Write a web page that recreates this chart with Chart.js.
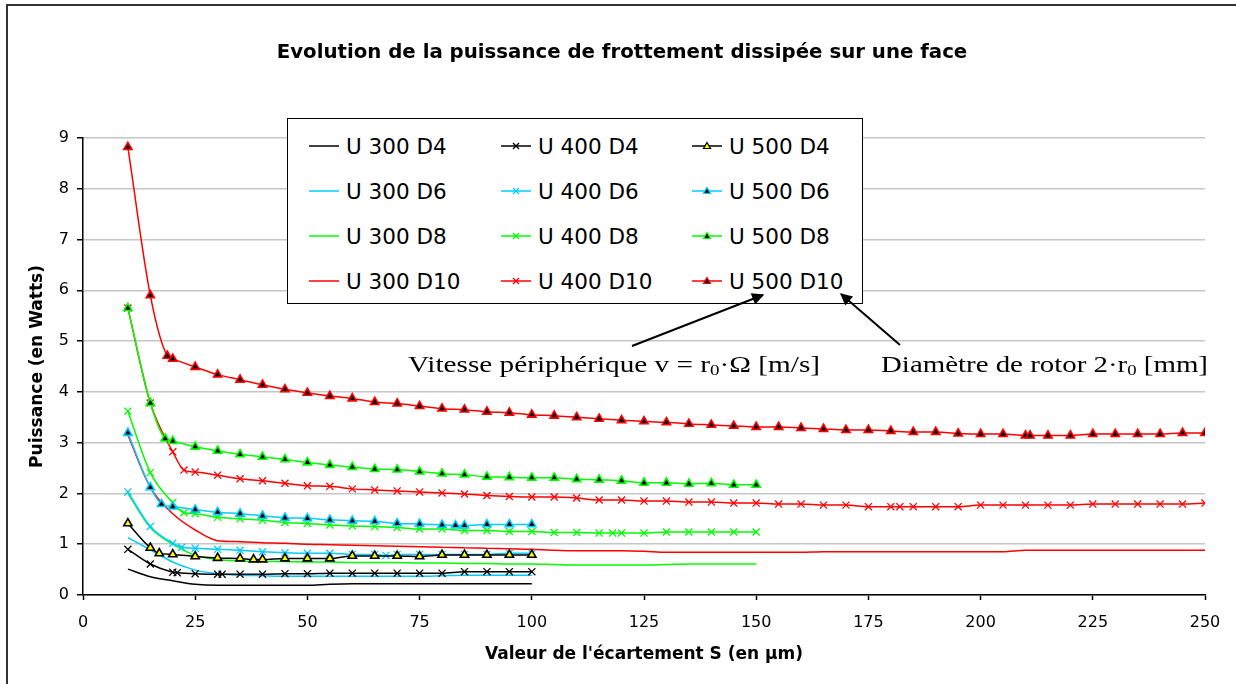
<!DOCTYPE html>
<html>
<head>
<meta charset="utf-8">
<script src="https://cdn.jsdelivr.net/npm/chart.js@4"></script>
<style>
  body { margin: 0; background: #fff; }
  #wrap { position: relative; width: 1236px; height: 684px; overflow: hidden; font-family: "DejaVu Sans", sans-serif; }
  #frame { position: absolute; left: 6px; top: 4px; width: 1300px; height: 800px; border: 2px solid #333; }
  #c { position: absolute; left: 0; top: 0; }
  #title { position: absolute; left: 0; top: 42px; width: 1244px; text-align: center; font-weight: bold; font-size: 19.75px; line-height: 1; color: #000; white-space: nowrap; }
  #leg { position: absolute; left: 287px; top: 118px; width: 574px; height: 184px; border: 1px solid #000; background: #fff; }
  .it { position: absolute; height: 26px; display: flex; align-items: center; font-size: 21.5px; color: #000; white-space: nowrap; }
  .it svg { margin-right: 7px; }
  .ann { position: absolute; font-family: "Liberation Serif", serif; font-size: 22.5px; line-height: 1; white-space: nowrap; transform-origin: left center; color: #000; }
  .ann sub { font-size: 0.65em; vertical-align: -0.2em; line-height: 0; }
  #arrows { position: absolute; left: 0; top: 0; }
</style>
</head>
<body>
<div id="wrap">
  <div id="frame"></div>
  <canvas id="c" width="1236" height="684"></canvas>
  <div id="title">Evolution de la puissance de frottement dissipée sur une face</div>
  <div id="leg"></div>
  <svg id="arrows" width="1236" height="684">
    <defs>
      <marker id="ah" viewBox="0 0 10 10" refX="9" refY="5" markerWidth="7" markerHeight="6" orient="auto" markerUnits="strokeWidth">
        <path d="M0,0 L10,5 L0,10 z" fill="#000"/>
      </marker>
    </defs>
    <line x1="632" y1="346" x2="763" y2="295" stroke="#000" stroke-width="2" marker-end="url(#ah)"/>
    <line x1="900" y1="345" x2="841" y2="294" stroke="#000" stroke-width="2" marker-end="url(#ah)"/>
  </svg>
  <div id="a1" class="ann" style="left:408px; top:354px;">Vitesse périphérique v = r<sub>0</sub>·Ω [m/s]</div>
  <div id="a2" class="ann" style="left:881px; top:354px;">Diamètre de rotor 2·r<sub>0</sub> [mm]</div>
</div>
<script>
// écartement S (µm) and puissance (W)
const s300D4 = [10,15,20,25,30,35,40,45,50,55,60,65,70,75,80,85,90,95,100];
const p300D4 = [0.51,0.36,0.28,0.21,0.19,0.19,0.19,0.19,0.19,0.21,0.22,0.22,0.22,0.22,0.22,0.22,0.22,0.22,0.22];
const s400D4 = [10,15,20,21,25,30,31,35,40,45,50,55,60,65,70,75,80,85,90,95,100];
const p400D4 = [0.90,0.61,0.45,0.44,0.42,0.41,0.41,0.41,0.41,0.42,0.42,0.43,0.43,0.43,0.43,0.43,0.43,0.46,0.46,0.46,0.46];
const s500D4 = [10,15,17,20,25,30,35,38,40,45,50,55,60,65,70,75,80,85,90,95,100];
const p500D4 = [1.41,0.93,0.82,0.80,0.76,0.73,0.72,0.70,0.70,0.72,0.72,0.72,0.77,0.77,0.77,0.76,0.79,0.79,0.79,0.79,0.79];

const s300D6 = [10,15,20,25,30,35,40,45,50,55,60,65,70,75,80,85,90,95,100];
const p300D6 = [1.13,0.89,0.65,0.49,0.42,0.39,0.38,0.37,0.37,0.37,0.37,0.37,0.37,0.37,0.38,0.39,0.39,0.39,0.39];
const s400D6 = [10,15,20,22,25,30,35,40,45,50,55,60,65,67.5,70,75,80,85,90,95,100];
const p400D6 = [2.03,1.35,1.02,0.94,0.92,0.90,0.88,0.85,0.83,0.82,0.82,0.80,0.80,0.78,0.80,0.80,0.80,0.80,0.80,0.82,0.82];
const s500D6 = [10,15,17.5,20,25,30,35,40,45,50,55,60,65,70,75,80,83,85,90,95,100];
const p500D6 = [3.19,2.12,1.79,1.74,1.68,1.63,1.60,1.56,1.52,1.51,1.48,1.46,1.45,1.41,1.40,1.38,1.37,1.37,1.39,1.39,1.39];

const s300D8 = [10,15,20,25,30,35,40,45,50,55,60,65,70,75,80,85,90,95,100,105,110,115,120,125,130,135,140,145,150];
const p300D8 = [2.00,1.33,1.00,0.78,0.70,0.67,0.66,0.66,0.65,0.65,0.64,0.64,0.64,0.63,0.63,0.62,0.62,0.61,0.61,0.60,0.59,0.59,0.59,0.59,0.60,0.61,0.61,0.61,0.61];
const s400D8 = [10,15,20,22.5,25,30,35,40,45,50,55,60,65,70,75,80,85,90,95,100,105,110,115,118,120,125,130,135,140,145,150];
const p400D8 = [3.62,2.41,1.82,1.62,1.60,1.53,1.50,1.47,1.43,1.41,1.38,1.36,1.35,1.33,1.30,1.30,1.27,1.27,1.25,1.25,1.23,1.23,1.22,1.22,1.22,1.22,1.24,1.24,1.24,1.24,1.24];
const s500D8 = [10,15,18.3,20,25,30,35,40,45,50,55,60,65,70,75,80,85,90,95,100,105,110,115,120,125,130,135,140,145,150];
const p500D8 = [5.65,3.78,3.08,3.03,2.92,2.84,2.77,2.72,2.67,2.61,2.56,2.52,2.48,2.47,2.43,2.39,2.37,2.33,2.32,2.31,2.31,2.28,2.27,2.25,2.21,2.21,2.19,2.20,2.17,2.17];

const s300D10 = [10,15,20,25,30,35,40,45,50,55,60,65,70,75,80,85,90,95,100,105,110,115,120,125,130,135,140,145,150,155,160,165,170,175,180,185,190,195,200,205,210,215,220,225,230,235,240,245,250];
const p300D10 = [3.15,2.12,1.60,1.28,1.07,1.05,1.03,1.02,1.00,0.99,0.98,0.97,0.96,0.95,0.94,0.93,0.92,0.91,0.90,0.88,0.87,0.87,0.87,0.86,0.84,0.84,0.84,0.84,0.84,0.84,0.84,0.85,0.85,0.85,0.85,0.85,0.85,0.85,0.85,0.85,0.88,0.88,0.88,0.88,0.88,0.88,0.88,0.88,0.88];
const s400D10 = [10,15,20,22.5,25,30,35,40,45,50,55,60,65,70,75,80,85,90,95,100,105,110,115,120,125,130,135,140,145,150,155,160,165,170,175,180,182,185,190,195,200,205,210,215,220,225,230,235,240,245,250];
const p400D10 = [5.65,3.78,2.82,2.46,2.42,2.36,2.29,2.25,2.20,2.15,2.14,2.09,2.07,2.05,2.03,2.01,1.99,1.96,1.94,1.93,1.93,1.91,1.87,1.87,1.85,1.85,1.83,1.83,1.81,1.81,1.79,1.79,1.77,1.77,1.74,1.74,1.74,1.74,1.74,1.74,1.77,1.77,1.77,1.77,1.77,1.79,1.79,1.79,1.79,1.79,1.81];
const s500D10 = [10,15,18.8,20,25,30,35,40,45,50,55,60,65,70,75,80,85,90,95,100,105,110,115,120,125,130,135,140,145,150,155,160,165,170,175,180,185,190,195,200,205,210,211,215,220,225,230,235,240,245,250];
const p500D10 = [8.82,5.90,4.71,4.65,4.49,4.34,4.24,4.14,4.05,3.98,3.92,3.87,3.80,3.77,3.72,3.67,3.65,3.61,3.59,3.55,3.53,3.50,3.47,3.44,3.42,3.40,3.37,3.35,3.33,3.31,3.31,3.29,3.27,3.25,3.25,3.23,3.21,3.21,3.18,3.17,3.17,3.14,3.14,3.14,3.14,3.17,3.17,3.17,3.17,3.19,3.19];

const xTicks = [0, 250, 25];
const yTicks = [0, 9, 1];

// legend order: row = diameter, column = speed
const series = [
  ['U 300 D4', s300D4, p300D4, 'D4', 300], ['U 400 D4', s400D4, p400D4, 'D4', 400], ['U 500 D4', s500D4, p500D4, 'D4', 500],
  ['U 300 D6', s300D6, p300D6, 'D6', 300], ['U 400 D6', s400D6, p400D6, 'D6', 400], ['U 500 D6', s500D6, p500D6, 'D6', 500],
  ['U 300 D8', s300D8, p300D8, 'D8', 300], ['U 400 D8', s400D8, p400D8, 'D8', 400], ['U 500 D8', s500D8, p500D8, 'D8', 500],
  ['U 300 D10', s300D10, p300D10, 'D10', 300], ['U 400 D10', s400D10, p400D10, 'D10', 400], ['U 500 D10', s500D10, p500D10, 'D10', 500]
];

const colors = { D4: '#000000', D6: '#00CCFF', D8: '#00FF00', D10: '#FF0000' };

function makeDataset([label, xs, ys, d, u]) {
  const c = colors[d];
  const ds = {
    label, data: xs.map((x, i) => ({ x, y: ys[i] })),
    borderColor: c, borderWidth: 1.5, fill: false,
    cubicInterpolationMode: 'monotone',
    pointRadius: 0, pointBorderColor: c, pointBackgroundColor: c
  };
  if (u === 400) { ds.pointStyle = 'crossRot'; ds.pointRadius = 5; ds.pointBorderWidth = 1.3; }
  if (u === 500) {
    ds.pointStyle = 'triangle'; ds.pointRadius = 4.8; ds.pointBorderWidth = 1.6;
    ds.pointBackgroundColor = d === 'D4' ? '#FFFF00' : '#000000';
  }
  return ds;
}

// first dataset is painted last in Chart.js, so put the marked series first
const datasets = [...series].sort((a, b) => b[4] - a[4]).map(makeDataset);

const tickFont = { family: 'DejaVu Sans', size: 16 };
const axisFont = { family: 'DejaVu Sans', size: 17, weight: 'bold' };

new Chart(document.getElementById('c').getContext('2d'), {
  type: 'line',
  data: { datasets },
  options: {
    responsive: false, animation: false,
    layout: { padding: { top: 138, right: 31 } },
    plugins: {
      legend: { display: false },
      tooltip: { enabled: false },
      title: { display: false }
    },
    scales: {
      x: {
        type: 'linear', min: xTicks[0], max: xTicks[1],
        ticks: { stepSize: xTicks[2], font: tickFont, color: '#000', padding: 13, maxRotation: 0 },
        grid: { drawOnChartArea: false, tickLength: 5, tickColor: '#000', tickWidth: 1.5 },
        border: { color: '#000', width: 1.5 },
        title: { display: true, text: "Valeur de l'écartement S (en µm)", font: axisFont, color: '#000', padding: { bottom: 19 } },
        afterFit: s => { s.height = 89; }
      },
      y: {
        min: yTicks[0], max: yTicks[1],
        ticks: { stepSize: yTicks[2], font: tickFont, color: '#000', padding: 8 },
        grid: { color: '#c6c6c6', lineWidth: 1.5, tickLength: 6, tickColor: '#000', tickWidth: 1.5 },
        border: { color: '#000', width: 1.5 },
        title: { display: true, text: 'Puissance (en Watts)', font: axisFont, color: '#000', padding: { top: 27 } },
        afterFit: s => { s.width = 83; }
      }
    }
  }
});

// HTML legend, 3 columns x 4 rows
const leg = document.getElementById('leg');
const rowY = [27, 72, 117, 162];
const colX = [21, 213, 404];
series.forEach(([label, , , d, u], i) => {
  const c = colors[d];
  let mark = '';
  if (u === 400) mark = `<path d="M12,5 L18,11 M18,5 L12,11" stroke="${c}" stroke-width="1.3"/>`;
  if (u === 500) mark = `<polygon points="15,4.5 18.5,10.5 11.5,10.5" fill="${d === 'D4' ? '#FFFF00' : '#000'}" stroke="${c}" stroke-width="1.2"/>`;
  const el = document.createElement('div');
  el.className = 'it';
  el.style.left = colX[i % 3] + 'px';
  el.style.top = (rowY[Math.floor(i / 3)] - 13) + 'px';
  el.innerHTML = `<svg width="30" height="16"><line x1="0" y1="8" x2="30" y2="8" stroke="${c}" stroke-width="1.5"/>${mark}</svg><span>${label}</span>`;
  leg.appendChild(el);
});

// annotation text is stretched horizontally in the original
[['a1', 412], ['a2', 327]].forEach(([id, w]) => {
  const el = document.getElementById(id);
  const nat = el.getBoundingClientRect().width;
  el.style.transform = `scaleX(${w / nat})`;
});
</script>
</body>
</html>
